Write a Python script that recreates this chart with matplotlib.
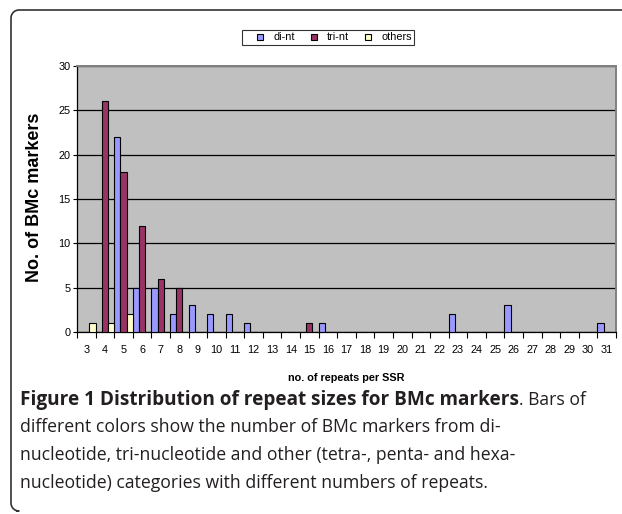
import matplotlib
matplotlib.use("Agg")
import matplotlib.pyplot as plt
import numpy as np
from matplotlib.lines import Line2D

# datos
repeticiones = list(range(3, 32))
di_nt = [0, 0, 22, 5, 5, 2, 3, 2, 2, 1, 0, 0, 0, 1, 0, 0, 0, 0, 0, 0, 2, 0, 0, 3, 0, 0, 0, 0, 1]
tri_nt = [0, 26, 18, 12, 6, 5, 0, 0, 0, 0, 0, 0, 1, 0, 0, 0, 0, 0, 0, 0, 0, 0, 0, 0, 0, 0, 0, 0, 0]
otros = [1, 1, 2, 0, 0, 0, 0, 0, 0, 0, 0, 0, 0, 0, 0, 0, 0, 0, 0, 0, 0, 0, 0, 0, 0, 0, 0, 0, 0]

series = ["di-nt", "tri-nt", "others"]
colores = ["#9999FF", "#993366", "#FFFFCC"]
yticks = [0, 5, 10, 15, 20, 25, 30]

titulo = "Figure 1 Distribution of repeat sizes for BMc markers"
resto = ". Bars of"
lineas = ["different colors show the number of BMc markers from di-",
          "nucleotide, tri-nucleotide and other (tetra-, penta- and hexa-",
          "nucleotide) categories with different numbers of repeats."]

W, H = 622, 514


def px(x, y):
    # pixeles de la imagen -> fraccion de figura
    return (x / W, 1 - y / H)


plt.rcParams["font.family"] = ["Liberation Sans", "DejaVu Sans"]
fig = plt.figure(figsize=(W / 100, H / 100), dpi=100)

# marco del articulo: solo arriba e izquierda, esquinas redondeadas
r = 8
a = np.linspace(0, np.pi / 2, 12)
xs = [622, 11 + r] + list(11 + r - r * np.sin(a)) + [11] + list(11 + r - r * np.cos(a)) + [17]
ys = [10, 10] + list(10 + r - r * np.cos(a)) + [511 - r] + list(511 - r + r * np.sin(a)) + [511]
fx = [v / W for v in xs]
fy = [1 - v / H for v in ys]
fig.add_artist(Line2D(fx, fy, transform=fig.transFigure, color="#333333", lw=1.2))

x0, y0 = px(77, 332)
x1, y1 = px(616, 66)
ax = fig.add_axes([x0, y0, x1 - x0, y1 - y0])
ax.set_facecolor("#C0C0C0")

x = np.array(repeticiones)
w = 1 / 3
for k, datos in enumerate([di_nt, tri_nt, otros]):
    v = np.array(datos)
    m = v > 0
    ax.bar(x[m] + (k - 1) * w, v[m], width=w, color=colores[k],
           edgecolor="black", linewidth=0.8, zorder=3)

ax.set_xlim(2.5, 31.5)
ax.set_ylim(0, 30)
ax.set_yticks(yticks)
ax.set_xticks(repeticiones)
ax.set_xticks(np.arange(2.5, 32, 1), minor=True)
ax.tick_params(axis="x", which="major", length=0, pad=9.5, labelsize=7.8)
ax.tick_params(axis="x", which="minor", length=4, direction="out", width=0.8)
ax.tick_params(axis="y", length=3, direction="out", pad=1.5, labelsize=7.8, width=0.8)

ax.set_axisbelow(True)
ax.yaxis.grid(True, color="black", lw=0.9)
for s in ["top", "right"]:
    ax.spines[s].set_color("#808080")
    ax.spines[s].set_linewidth(1.4)
for s in ["left", "bottom"]:
    ax.spines[s].set_color("black")
    ax.spines[s].set_linewidth(0.9)

# etiquetas de ejes
fig.text(*px(346, 378), "no. of repeats per SSR", ha="center", va="center",
         fontsize=7.8, fontweight="bold")
fig.text(*px(35, 197), "No. of BMc markers", ha="center", va="center",
         rotation=90, fontsize=13, fontweight="bold")

# leyenda
manijas = [Line2D([], [], ls="none", marker="s", markersize=4.2, markerfacecolor=c,
                  markeredgecolor="black", markeredgewidth=0.8) for c in colores]
leg = fig.legend(manijas, series, loc="center", bbox_to_anchor=px(328, 37.5), ncol=3,
                 fontsize=7.8, frameon=True, fancybox=False, handlelength=3.0,
                 handletextpad=-0.26, columnspacing=0.2, borderpad=0.25,
                 edgecolor="black")
leg.get_frame().set_linewidth(0.8)

# leyenda de figura (texto debajo del grafico)
cap = dict(family=["Open Sans", "DejaVu Sans"], color="#231F20", va="center")
t = fig.text(*px(20, 400), titulo, fontweight="bold", fontsize=13.7, **cap)
fig.canvas.draw()
bb = t.get_window_extent(fig.canvas.get_renderer())
fig.text(bb.x1 / W, 1 - 400 / H, resto, fontsize=12.7, **cap)
for i, linea in enumerate(lineas):
    fig.text(*px(20, 427.5 + 27.5 * i), linea, fontsize=12.7, **cap)

fig.savefig("out.png", dpi=100)
